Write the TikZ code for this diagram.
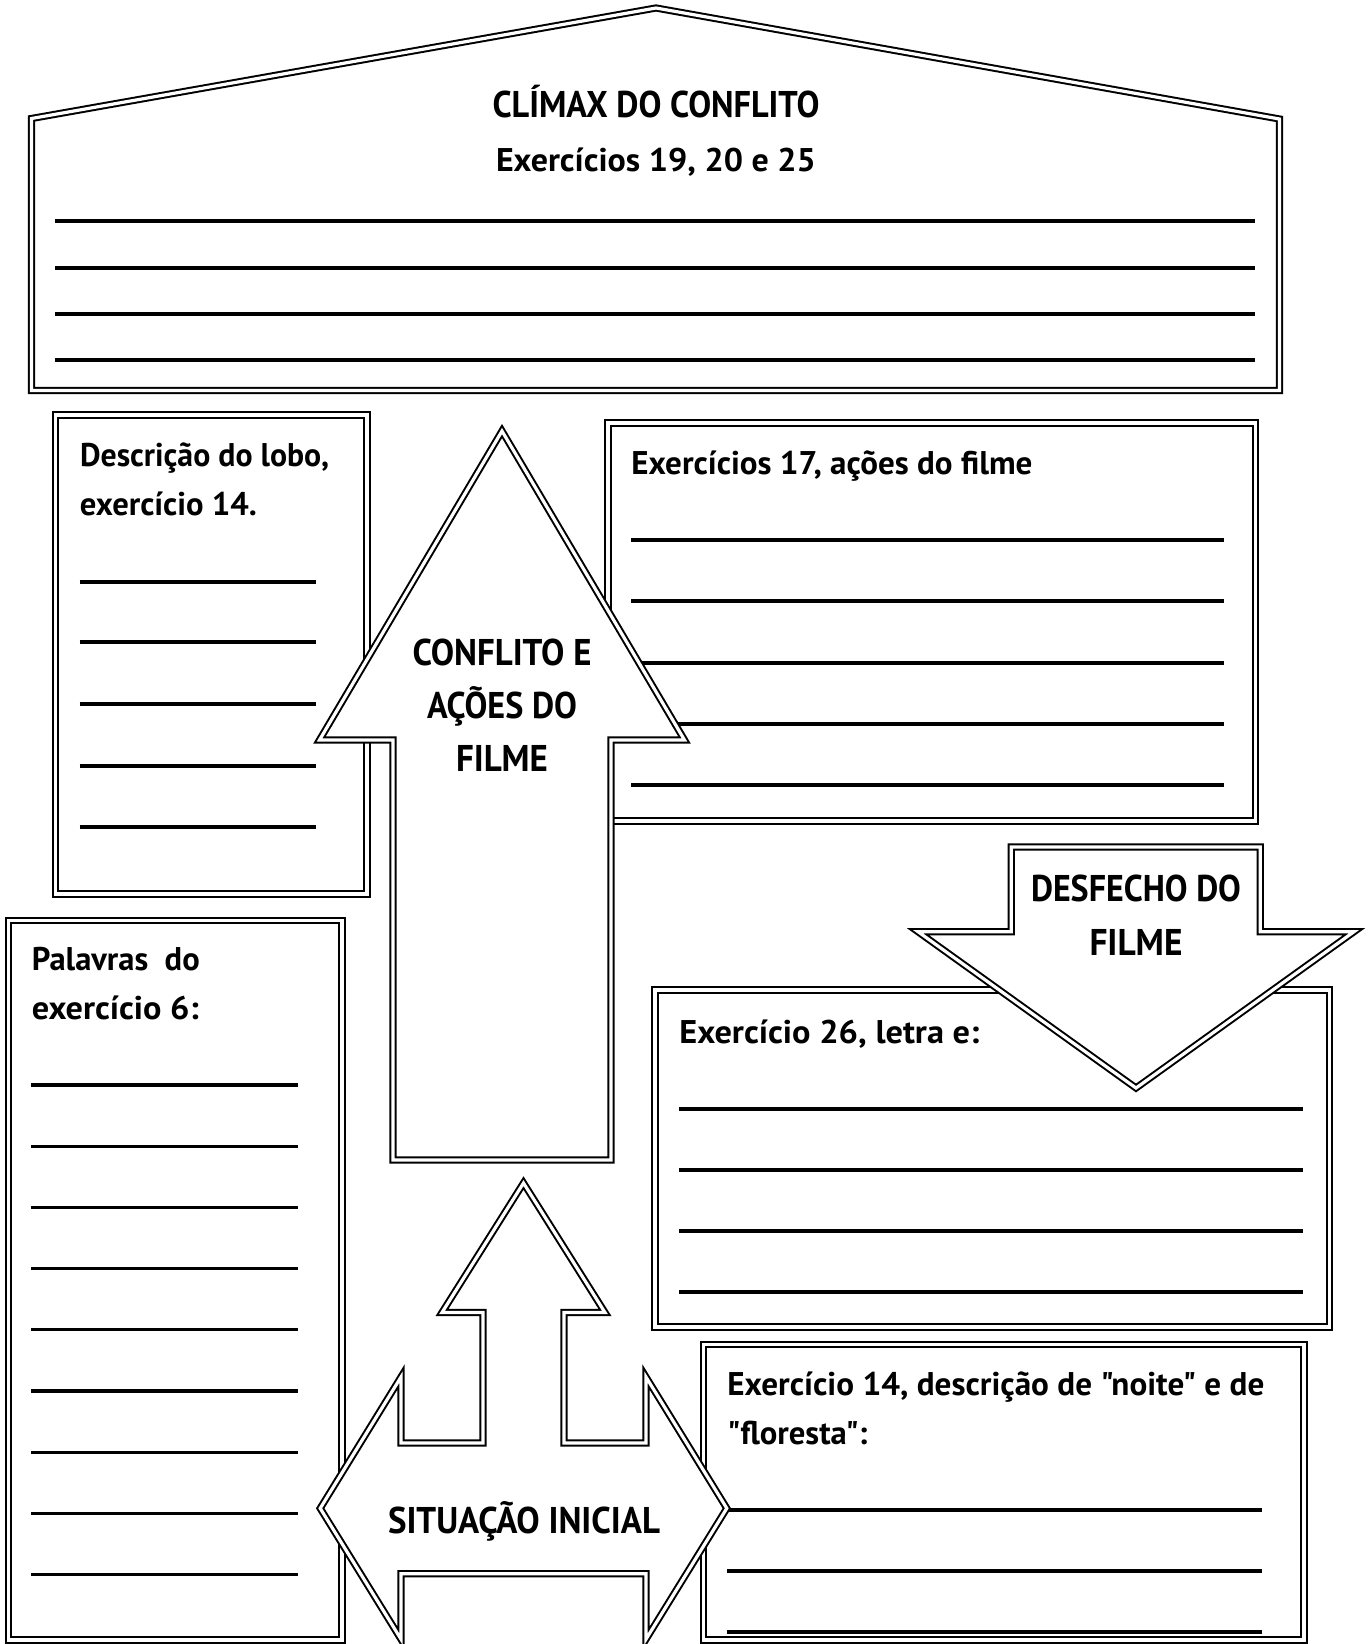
\documentclass[tikz,border=0pt]{standalone}
\usepackage{fontspec}
\usepackage{graphicx}
\setmainfont{PT Sans}[Ligatures=TeXOff]
\newsavebox\fitbox
\newlength\fitlen
\newcommand\fitw[2]{\sbox\fitbox{#2}\setlength\fitlen{\wd\fitbox}\pgfmathsetmacro\fitsx{0.5*#1/\fitlen}\scalebox{\fitsx}[1]{\usebox\fitbox}}
\newcommand\sq{\char34\relax}
\tikzset{
  dbl/.style={draw=black, line width=1pt, double=white, double distance=1.6pt, line join=miter},
  arrowshape/.style={dbl, fill=white},
  wline/.style={line width=1.6pt},
  headtxt/.style={inner sep=0pt, anchor=base, font=\fontsize{18.6}{20}\selectfont\bfseries},
  boxtxt/.style={inner sep=0pt, anchor=base west, font=\fontsize{16.4}{18}\selectfont\bfseries},
}
\begin{document}
\begin{tikzpicture}[x=0.5pt,y=-0.5pt]
\useasboundingbox (0,0) rectangle (1370,1644);
\clip (0,0) rectangle (1370,1644);
% house
\draw[dbl] (31.5,118.5) -- (656,8) -- (1279.5,119) -- (1279.5,390.5) -- (31.5,390.5) -- cycle;
\foreach \y in {221,268,314,360} \draw[wline] (55,\y) -- (1255,\y);
\node[headtxt] (title) at (656,117) {\fitw{327}{CLÍMAX DO CONFLITO}};
\node[boxtxt, anchor=base] (subtitle) at (656,171) {\fitw{320}{Exercícios 19, 20 e 25}};
% boxes
\draw[dbl] (55.5,415) rectangle (367,894);
\draw[dbl] (608,423) rectangle (1255.5,821);
\draw[dbl] (8.5,920.5) rectangle (342,1640);
\draw[dbl] (655,990) rectangle (1329.5,1327);
\draw[dbl] (703.5,1344.5) rectangle (1304,1640);
% writing lines
\foreach \y in {582,642,704,766,827} \draw[wline] (79.6,\y) -- (315.5,\y);
\foreach \y in {540,601,663,724,785} \draw[wline] (631,\y) -- (1224,\y);
\foreach \k in {0,...,8} \draw[wline] (31.4,1085+61.2*\k) -- (297.6,1085+61.2*\k);
\foreach \y in {1109,1170,1231,1292} \draw[wline] (679,\y) -- (1303,\y);
\foreach \y in {1510,1571,1632} \draw[wline] (727,\y) -- (1262,\y);
% box texts
\node[boxtxt] (ta1) at (79.6,466) {\fitw{249}{Descrição do lobo,}};
\node[boxtxt] (ta2) at (79.6,515) {\fitw{177}{exercício 14.}};
\node[boxtxt] (tb1) at (631,474) {\fitw{401}{Exercícios 17, ações do filme}};
\node[boxtxt] (tc1) at (31.4,970) {\fitw{168}{Palavras\ \ do}};
\node[boxtxt] (tc2) at (31.4,1019) {\fitw{167}{exercício 6:}};
\node[boxtxt] (td1) at (679,1043) {\fitw{300}{Exercício 26, letra e:}};
\node[boxtxt] (te1) at (727,1395) {\fitw{537}{Exercício 14, descrição de \sq noite\sq{} e de}};
\node[boxtxt] (te2) at (727,1444) {\fitw{140}{\sq floresta\sq:}};
% big up arrow
\draw[arrowshape] (502,431) -- (684.5,740) -- (611,740) -- (611,1160) -- (393,1160) -- (393,740) -- (319.5,740) -- cycle;
\node[headtxt] (h1) at (502,665) {\fitw{179}{CONFLITO E}};
\node[headtxt] (h2) at (502,718) {\fitw{150}{AÇÕES DO}};
\node[headtxt] (h3) at (502,771) {\fitw{92}{FILME}};
% down arrow
\draw[arrowshape] (1011.3,847) -- (1260.3,847) -- (1260.3,931.7) -- (1354,931.7) -- (1136,1088) -- (918,931.7) -- (1011.3,931.7) -- cycle;
\node[headtxt] (d1) at (1136,901) {\fitw{210}{DESFECHO DO}};
\node[headtxt] (d2) at (1136,955) {\fitw{93}{FILME}};
% left-right-up arrow
\draw[arrowshape] (523.5,1183) -- (605,1312.5) -- (564,1312.5) -- (564,1443) -- (646,1443) -- (646,1377) -- (726.8,1508.3) -- (646,1639.2) -- (646,1573.7) -- (401,1573.7) -- (401,1639.2) -- (320.2,1508.3) -- (401,1377) -- (401,1443) -- (483,1443) -- (483,1312.5) -- (442,1312.5) -- cycle;
\node[headtxt] (s1) at (524,1533) {\fitw{272}{SITUAÇÃO INICIAL}};
\end{tikzpicture}
\end{document}
